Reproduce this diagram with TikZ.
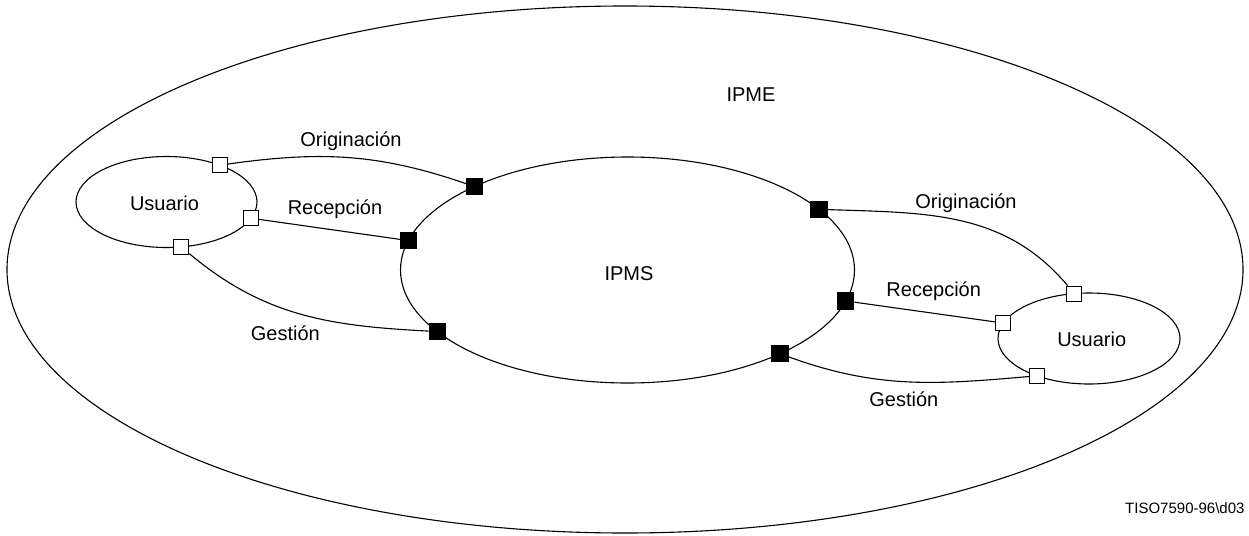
\documentclass[tikz,border=0pt]{standalone}
\usepackage{fontspec}
\setmainfont{Liberation Sans}
\usetikzlibrary{shapes.geometric,calc}

\begin{document}
\begin{tikzpicture}[x=1pt,y=1pt,line width=1.1pt,
  lbl/.style={font=\fontsize{20}{24}\selectfont,anchor=base,inner sep=0pt},
  region/.style={draw,ellipse,inner sep=0pt},
  port/.style={draw,fill=white,minimum size=15pt,inner sep=0pt,line width=1pt},
  sap/.style={draw,fill=black,minimum size=16pt,inner sep=0pt}
]
\useasboundingbox (0,0) rectangle (1249,-535);

% environment, system and the two users
\node[region,minimum width=1236pt,minimum height=527pt] (ipme) at (625,-269.5) {};
\node[region,minimum width=454pt,minimum height=226pt] (ipms) at (627.5,-270) {};
\node[region,minimum width=181pt,minimum height=91pt] (ua) at (166.5,-202) {};
\node[region,minimum width=182pt,minimum height=91pt] (ub) at (1089,-338.5) {};

% texts
\node[lbl] (tipme) at (751,-101) {IPME};
\node[lbl] (tipms) at (629,-280) {IPMS};
\node[lbl] (tua) at (164.5,-210) {Usuario};
\node[lbl] (tub) at (1091.7,-346) {Usuario};
\node[lbl] (toa) at (351,-146.5) {Originación};
\node[lbl] (tra) at (335,-214.5) {Recepción};
\node[lbl] (tga) at (285.3,-340) {Gestión};
\node[lbl] (tob) at (966,-208.7) {Originación};
\node[lbl] (trb) at (933.7,-296.7) {Recepción};
\node[lbl] (tgb) at (903.8,-406) {Gestión};
\node[font=\fontsize{15}{18}\selectfont,anchor=base east,inner sep=0pt] (ref) at (1245,-513) {TISO7590-96\textbackslash d03};

% access points on the system
\node[sap] (soa) at ($(ipms.center)+(132.4:227pt and 113pt)$) {};
\node[sap] (sra) at ($(ipms.center)+(164.9:227pt and 113pt)$) {};
\node[sap] (sga) at ($(ipms.center)+(213:227pt and 113pt)$) {};
\node[sap] (sob) at ($(ipms.center)+(32.5:227pt and 113pt)$) {};
\node[sap] (srb) at ($(ipms.center)+(-15.9:227pt and 113pt)$) {};
\node[sap] (sgb) at ($(ipms.center)+(-47.8:227pt and 113pt)$) {};

% ports on the users
\node[port] (poa) at ($(ua.center)+(54:90.5pt and 45.5pt)$) {};
\node[port] (pra) at ($(ua.center)+(-20.9:90.5pt and 45.5pt)$) {};
\node[port] (pga) at ($(ua.center)+(-80.6:90.5pt and 45.5pt)$) {};
\node[port] (pob) at ($(ub.center)+(99.3:91pt and 45.5pt)$) {};
\node[port] (prb) at ($(ub.center)+(160.2:91pt and 45.5pt)$) {};
\node[port] (pgb) at ($(ub.center)+(235.1:91pt and 45.5pt)$) {};

% links
\draw (poa) to[out=8,in=161] (soa);
\draw (pra) -- (sra);
\draw (pga) to[out=-40,in=177] (sga);
\draw (sob) to[out=-2,in=130] (pob);
\draw (srb) -- (prb);
\draw (sgb) to[out=-20,in=185] (pgb);
\end{tikzpicture}
\end{document}
